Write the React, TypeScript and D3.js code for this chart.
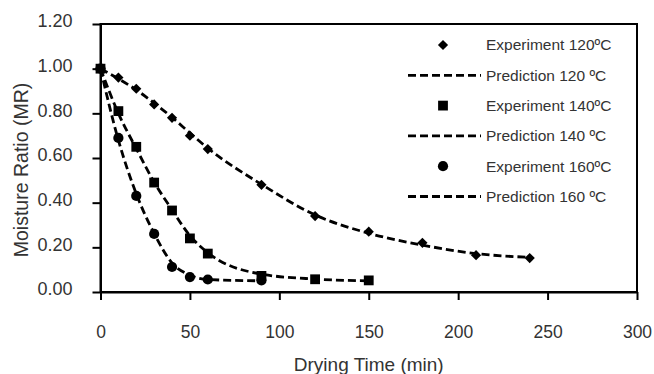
import React, { useRef, useEffect } from "react";
import {
  select,
  scaleLinear,
  axisBottom,
  axisLeft,
  line,
  curveMonotoneX,
  symbol,
  symbolSquare,
  symbolCircle,
  format,
} from "d3";

// drying times (min) per temperature
const times120 = [0, 10, 20, 30, 40, 50, 60, 90, 120, 150, 180, 210, 240];
const times140 = [0, 10, 20, 30, 40, 50, 60, 90, 120, 150];
const times160 = [0, 10, 20, 30, 40, 50, 60, 90];

// experimental moisture ratio
const exp120 = [1.0, 0.96, 0.91, 0.84, 0.78, 0.70, 0.64, 0.48, 0.34, 0.27, 0.22, 0.165, 0.152];
const exp140 = [1.0, 0.81, 0.65, 0.49, 0.365, 0.24, 0.172, 0.072, 0.057, 0.052];
const exp160 = [1.0, 0.69, 0.43, 0.26, 0.112, 0.067, 0.056, 0.052];

// model prediction
const pred120 = [1.0, 0.955, 0.905, 0.846, 0.782, 0.712, 0.644, 0.482, 0.345, 0.263, 0.21, 0.172, 0.155];
const pred140 = [1.0, 0.8, 0.642, 0.492, 0.368, 0.252, 0.176, 0.08, 0.058, 0.05];
const pred160 = [1.0, 0.68, 0.44, 0.262, 0.13, 0.076, 0.056, 0.05];

const xTicks = [0, 50, 100, 150, 200, 250, 300];
const yTicks = [0, 0.2, 0.4, 0.6, 0.8, 1.0, 1.2];

const legendLabels = [
  "Experiment 120ºC",
  "Prediction 120 ºC",
  "Experiment 140ºC",
  "Prediction 140 ºC",
  "Experiment 160ºC",
  "Prediction 160 ºC",
];

const W = 654;
const H = 374;
const margin = { left: 100.5, right: 17, top: 24, bottom: 82 };
const textColor = "#333";
const font = "'Liberation Sans', Arial, sans-serif";

function App() {
  const svgRef = useRef<SVGSVGElement>(null);

  useEffect(() => {
    const svg = select(svgRef.current);
    svg.selectAll("*").remove();

    const xScale = scaleLinear().domain([0, 300]).range([margin.left, W - margin.right]);
    const yScale = scaleLinear().domain([0, 1.2]).range([H - margin.bottom, margin.top]);

    // plot frame
    svg
      .append("rect")
      .attr("x", xScale(0))
      .attr("y", yScale(1.2))
      .attr("width", xScale(300) - xScale(0))
      .attr("height", yScale(0) - yScale(1.2))
      .attr("fill", "none")
      .attr("stroke", "#000")
      .attr("stroke-width", 2);

    // x axis
    const gx = svg
      .append("g")
      .attr("transform", `translate(0,${yScale(0)})`)
      .call(axisBottom(xScale).tickValues(xTicks).tickSize(8).tickSizeOuter(0).tickPadding(26));
    gx.select(".domain").attr("stroke-width", 2);
    gx.selectAll(".tick line").attr("stroke-width", 2);
    gx.selectAll(".tick text")
      .attr("fill", textColor)
      .attr("font-size", 17.5)
      .attr("font-family", font);

    // y axis
    const gy = svg
      .append("g")
      .attr("transform", `translate(${xScale(0)},0)`)
      .call(
        axisLeft(yScale)
          .tickValues(yTicks)
          .tickSize(8)
          .tickSizeOuter(0)
          .tickPadding(20)
          .tickFormat(format(".2f"))
      );
    gy.select(".domain").attr("stroke-width", 2);
    gy.selectAll(".tick line").attr("stroke-width", 2);
    gy.selectAll(".tick text")
      .attr("fill", textColor)
      .attr("font-size", 18)
      .attr("font-family", font)
      .attr("dy", "0.16em");

    // axis titles
    svg
      .append("text")
      .attr("x", (xScale(0) + xScale(300)) / 2)
      .attr("y", 371)
      .attr("text-anchor", "middle")
      .attr("fill", textColor)
      .attr("font-size", 19)
      .attr("font-family", font)
      .text("Drying Time (min)");
    svg
      .append("text")
      .attr("transform", "translate(28,170) rotate(-90)")
      .attr("text-anchor", "middle")
      .attr("fill", textColor)
      .attr("font-size", 19.5)
      .attr("font-family", font)
      .text("Moisture Ratio (MR)");

    const diamond = symbol(symbolSquare, 52)();
    const square = symbol(symbolSquare, 96)();
    const circle = symbol(symbolCircle, 82)();

    const lineGen = line<[number, number]>()
      .x((d) => xScale(d[0]))
      .y((d) => yScale(d[1]))
      .curve(curveMonotoneX);

    const series = [
      { t: times120, exp: exp120, pred: pred120, path: diamond, rot: 45 },
      { t: times140, exp: exp140, pred: pred140, path: square, rot: 0 },
      { t: times160, exp: exp160, pred: pred160, path: circle, rot: 0 },
    ];

    const plot = svg.append("g");
    series.forEach((s) => {
      plot
        .append("g")
        .selectAll("path")
        .data(s.t.map((t, i) => [t, s.exp[i]]))
        .join("path")
        .attr("d", s.path)
        .attr("fill", "#000")
        .attr("transform", (d) => `translate(${xScale(d[0])},${yScale(d[1])}) rotate(${s.rot})`);
      plot
        .append("path")
        .attr("d", lineGen(s.t.map((t, i) => [t, s.pred[i]] as [number, number])))
        .attr("fill", "none")
        .attr("stroke", "#000")
        .attr("stroke-width", 2.8)
        .attr("stroke-dasharray", "8,4");
    });

    // legend
    const legend = svg.append("g");
    legendLabels.forEach((label, i) => {
      const y = 45 + i * 30.3;
      const row = legend.append("g").attr("transform", `translate(0,${y})`);
      if (i % 2 === 0) {
        const s = series[i / 2];
        row
          .append("path")
          .attr("d", s.path)
          .attr("fill", "#000")
          .attr("transform", `translate(443,0) rotate(${s.rot})`);
      } else {
        row
          .append("line")
          .attr("x1", 408)
          .attr("x2", 481)
          .attr("stroke", "#000")
          .attr("stroke-width", 2.8)
          .attr("stroke-dasharray", "8,4");
      }
      row
        .append("text")
        .attr("x", 486)
        .attr("dy", "0.35em")
        .attr("fill", textColor)
        .attr("font-size", 15.5)
        .attr("font-family", font)
        .text(label);
    });
  }, []);

  return (
    <svg
      ref={svgRef}
      width={W}
      height={H}
      style={{ position: "absolute", left: 0, top: 0, background: "#fff" }}
    />
  );
}

export default App;
